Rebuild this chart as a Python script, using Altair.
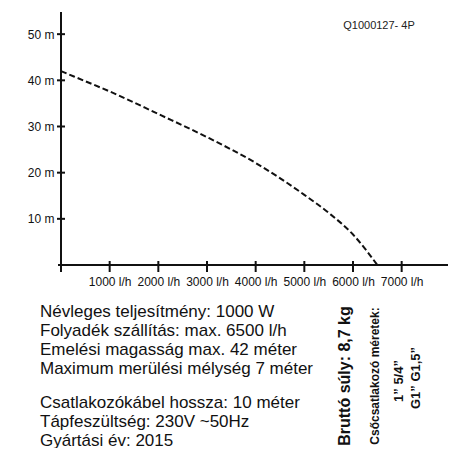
import altair as alt
import pandas as pd

# Pump curve (flow l/h -> head m)
flow = [0, 500, 1000, 2000, 3000, 4000, 5000, 5500, 6000, 6500]
head = [42.0, 39.8, 37.6, 32.7, 27.7, 22.1, 15.2, 11.3, 6.6, 0.0]

x_ticks = [1000, 2000, 3000, 4000, 5000, 6000, 7000]
y_ticks = [10, 20, 30, 40, 50]

model = "Q1000127- 4P"
spec_lines_1 = [
    "Névleges teljesítmény: 1000 W",
    "Folyadék szállítás: max. 6500 l/h",
    "Emelési magasság max. 42 méter",
    "Maximum merülési mélység 7 méter",
]
spec_lines_2 = [
    "Csatlakozókábel hossza: 10 méter",
    "Tápfeszültség: 230V ~50Hz",
    "Gyártási év: 2015",
]
weight_text = "Bruttó súly: 8,7 kg"
conn_title = "Csőcsatlakozó méretek:"
conn_1 = "1”  5/4”"
conn_2 = "G1”  G1,5”"

W, H = 365, 253
XMAX, YMAX = 7500, 54.8
SANS = "Liberation Sans, Arial, sans-serif"

xs = alt.Scale(domain=[0, XMAX], nice=False, zero=False)
ys = alt.Scale(domain=[0, YMAX], nice=False, zero=False)

x_axis = alt.Axis(values=x_ticks, labelExpr="datum.value + ' l/h'",
                  domain=False, ticks=False, grid=False, title=None,
                  labelFont=SANS, labelFontSize=12, labelColor="#111",
                  labelPadding=11)
y_axis = alt.Axis(values=y_ticks, labelExpr="datum.value + ' m'",
                  domain=False, ticks=False, grid=False, title=None,
                  labelFont=SANS, labelFontSize=12, labelColor="#111",
                  labelPadding=7)

curve_df = pd.DataFrame({"flow": flow, "head": head})
curve = alt.Chart(curve_df).mark_line(
    color="#111", strokeWidth=2, strokeDash=[6, 3], interpolate="monotone"
).encode(
    x=alt.X("flow:Q", scale=xs, axis=x_axis),
    y=alt.Y("head:Q", scale=ys, axis=y_axis),
)

base_rule = dict(color="#111", strokeWidth=2)

x_axis_line = alt.Chart(pd.DataFrame({"a": [0]})).mark_rule(**base_rule).encode(
    x=alt.value(-3),
    x2=alt.X2(datum=XMAX),
    y=alt.Y(datum=0, scale=ys, axis=y_axis),
)
y_axis_line = alt.Chart(pd.DataFrame({"a": [0]})).mark_rule(**base_rule).encode(
    x=alt.X(datum=0, scale=xs, axis=x_axis),
    y=alt.Y(datum=YMAX, scale=ys, axis=y_axis),
    y2=alt.value(H + 7),
)
x_tick_marks = alt.Chart(pd.DataFrame({"t": x_ticks})).mark_rule(**base_rule).encode(
    x=alt.X("t:Q", scale=xs, axis=x_axis),
    y=alt.value(H - 4),
    y2=alt.value(H + 7),
)
y_tick_marks = alt.Chart(pd.DataFrame({"t": y_ticks})).mark_rule(**base_rule).encode(
    y=alt.Y("t:Q", scale=ys, axis=y_axis),
    x=alt.value(-4),
    x2=alt.value(4),
)

one = pd.DataFrame({"a": [0]})

model_text = alt.Chart(one).mark_text(
    font=SANS, fontSize=11, color="#222", align="center", baseline="middle"
).encode(x=alt.value(318), y=alt.value(13.5), text=alt.value(model))

spec_text_1 = alt.Chart(pd.DataFrame({"t": ["\n".join(spec_lines_1)]})).mark_text(
    font=SANS, fontSize=17, color="#111", align="left", baseline="alphabetic",
    lineBreak="\n", lineHeight=19.2
).encode(x=alt.value(-21), y=alt.value(304.8), text="t:N")

spec_text_2 = alt.Chart(pd.DataFrame({"t": ["\n".join(spec_lines_2)]})).mark_text(
    font=SANS, fontSize=17, color="#111", align="left", baseline="alphabetic",
    lineBreak="\n", lineHeight=19.0
).encode(x=alt.value(-21), y=alt.value(395.5), text="t:N")

weight = alt.Chart(one).mark_text(
    font=SANS, fontSize=16, fontWeight="bold", color="#111", angle=270,
    align="center", baseline="middle"
).encode(x=alt.value(284), y=alt.value(364), text=alt.value(weight_text))

conn_t = alt.Chart(one).mark_text(
    font=SANS, fontSize=12, fontWeight="bold", color="#111", angle=270,
    align="center", baseline="middle"
).encode(x=alt.value(314), y=alt.value(364), text=alt.value(conn_title))

conn_a = alt.Chart(one).mark_text(
    font=SANS, fontSize=13, fontWeight="bold", color="#111", angle=270,
    align="center", baseline="middle"
).encode(x=alt.value(338), y=alt.value(369), text=alt.value(conn_1))

conn_b = alt.Chart(one).mark_text(
    font=SANS, fontSize=13, fontWeight="bold", color="#111", angle=270,
    align="center", baseline="middle"
).encode(x=alt.value(355), y=alt.value(366), text=alt.value(conn_2))

chart = alt.layer(
    curve, x_axis_line, y_axis_line, x_tick_marks, y_tick_marks,
    model_text, spec_text_1, spec_text_2, weight, conn_t, conn_a, conn_b
).properties(
    width=W, height=H,
    autosize=alt.AutoSizeParams(type="none"),
    padding={"left": 53, "top": 4, "right": 22, "bottom": 183},
    background="white",
).configure_view(stroke=None)

chart.save("out.html", embed_options={"renderer": "svg", "actions": False})
